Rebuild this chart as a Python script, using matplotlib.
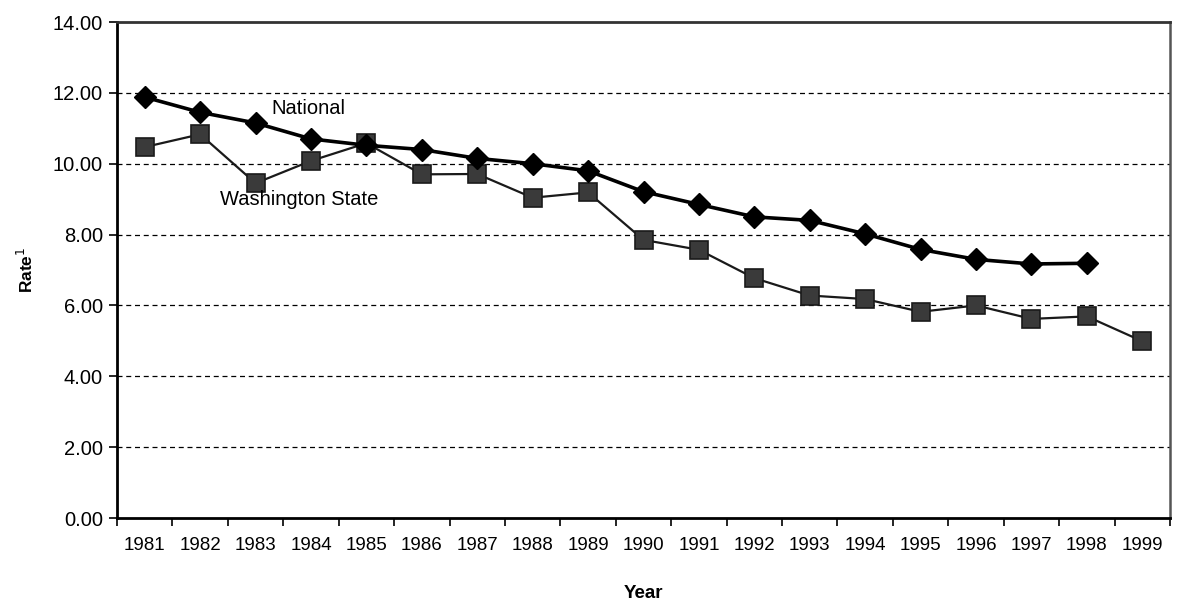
import matplotlib
matplotlib.use("Agg")
import matplotlib.pyplot as plt
import numpy as np

years = ["1981", "1982", "1983", "1984", "1985", "1986", "1987", "1988", "1989", "1990",
         "1991", "1992", "1993", "1994", "1995", "1996", "1997", "1998", "1999"]
national = [11.88, 11.45, 11.15, 10.70, 10.52, 10.40, 10.15, 10.00, 9.80, 9.21,
            8.85, 8.50, 8.40, 8.02, 7.58, 7.30, 7.17, 7.19]
washington = [10.47, 10.83, 9.45, 10.08, 10.58, 9.70, 9.71, 9.04, 9.19, 7.85,
              7.57, 6.77, 6.28, 6.18, 5.82, 6.00, 5.62, 5.69, 4.99]
yticks = [0, 2, 4, 6, 8, 10, 12, 14]

plt.rcParams['font.family'] = ['Liberation Sans', 'DejaVu Sans']

fig = plt.figure(figsize=(11.82, 6.04), dpi=100)
ax = fig.add_axes([117/1182, 1 - 518/604, (1170-117)/1182, (518-22)/604])

x_all = np.arange(len(years))
ax.plot(x_all[:len(national)], national, color='black', linewidth=2.6,
        marker='D', markersize=11, markerfacecolor='black', markeredgecolor='black', zorder=4)
ax.plot(x_all, washington, color='#1a1a1a', linewidth=1.6,
        marker='s', markersize=12.5, markerfacecolor='#3a3a3a', markeredgecolor='#1a1a1a',
        markeredgewidth=1.2, zorder=3)

ax.set_xlim(-0.5, len(years) - 0.5)
ax.set_ylim(0, 14)
ax.set_yticks(yticks)
ax.set_yticklabels([f"{v:.2f}" for v in yticks], fontsize=14.5)
ax.set_xticks(x_all)
ax.set_xticklabels(years, fontsize=13.5)
ax.set_xticks(np.arange(-0.5, len(years)), minor=True)
ax.tick_params(axis='x', which='major', length=0, pad=14)
ax.tick_params(axis='x', which='minor', length=6, width=1.2, direction='out')
ax.tick_params(axis='y', length=6, width=1.2, direction='out', pad=4)

for v in yticks[1:-1]:
    ax.axhline(v, color='black', linewidth=0.9, linestyle=(0, (4, 3)), zorder=1)

for s in ['left', 'bottom']:
    ax.spines[s].set_linewidth(2.0)
    ax.spines[s].set_color('black')
ax.spines['top'].set_linewidth(2.0)
ax.spines['top'].set_color('#333333')
ax.spines['right'].set_linewidth(1.8)
ax.spines['right'].set_color('#555555')

ax.set_xlabel("Year", fontsize=13.5, fontweight='bold', labelpad=22)
ax.set_ylabel("Rate$^{1}$", fontsize=12.5, fontweight='bold', labelpad=12)

ax.text(2.29, 11.55, "National", fontsize=14.5, ha='left', va='center')
ax.text(1.36, 9.0, "Washington State", fontsize=14.5, ha='left', va='center')

fig.savefig("out.png", dpi=100, facecolor='white')
